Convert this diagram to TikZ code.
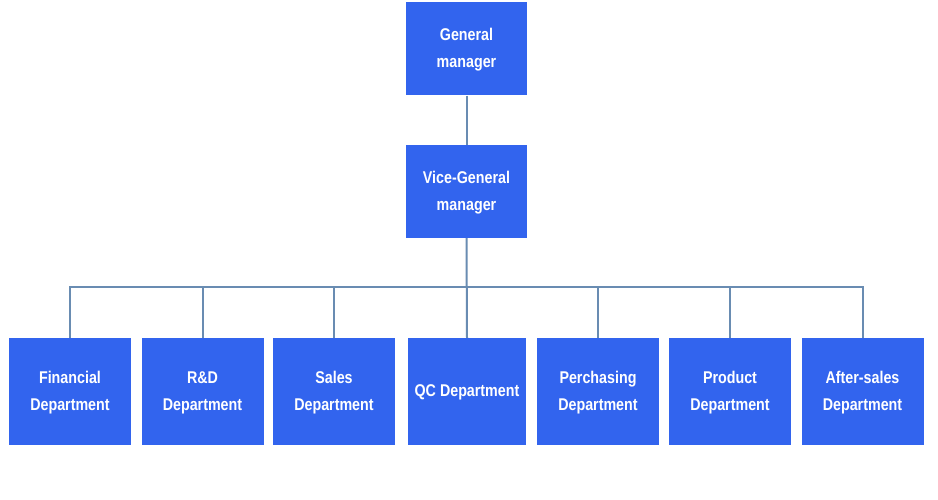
\documentclass[tikz,border=0pt]{standalone}
\usepackage{fontspec}
\setmainfont{Liberation Sans}[FakeStretch=0.84]
\definecolor{boxblue}{RGB}{50,100,238}
\definecolor{linecol}{RGB}{105,140,178}
\newcommand{\orglbl}[1]{\raisebox{-3pt}{\begin{tabular}{@{}c@{}}#1\end{tabular}}}
\begin{document}
\begin{tikzpicture}[x=1pt,y=1pt,
  orgbox/.style={draw=none,fill=boxblue,text=white,minimum width=122pt,minimum height=107pt,
    inner sep=0pt,font=\bfseries\fontsize{17}{27}\selectfont},
  topbox/.style={orgbox,minimum width=121pt,minimum height=93pt},
  link/.style={draw=linecol,line width=2pt}]
\useasboundingbox (0,0) rectangle (938,500);
\fill[white] (0,0) rectangle (938,500);
\node[topbox] (gm) at (466.5,451) {\orglbl{General\\manager}};
\node[topbox] (vgm) at (466.5,308.5) {\orglbl{Vice-General\\manager}};
\coordinate (bus) at (466.5,213);
\node[orgbox] (fin) at (70,108.5) {\orglbl{Financial\\Department}};
\node[orgbox] (rd) at (202.5,108.5) {\orglbl{R\&D\\Department}};
\node[orgbox] (sales) at (334,108.5) {\orglbl{Sales\\Department}};
\node[orgbox,minimum width=118pt] (qc) at (467,108.5) {\orglbl{QC Department}};
\node[orgbox] (perch) at (598,108.5) {\orglbl{Perchasing\\Department}};
\node[orgbox] (prod) at (730,108.5) {\orglbl{Product\\Department}};
\node[orgbox] (after) at (862.5,108.5) {\orglbl{After-sales\\Department}};
\draw[link] (gm.south) -- (vgm.north);
\draw[link] (vgm.south) -- (qc.north);
\foreach \n in {fin,rd,sales,perch,prod,after}
  \draw[link] (bus) -| (\n.north);
\end{tikzpicture}
\end{document}
